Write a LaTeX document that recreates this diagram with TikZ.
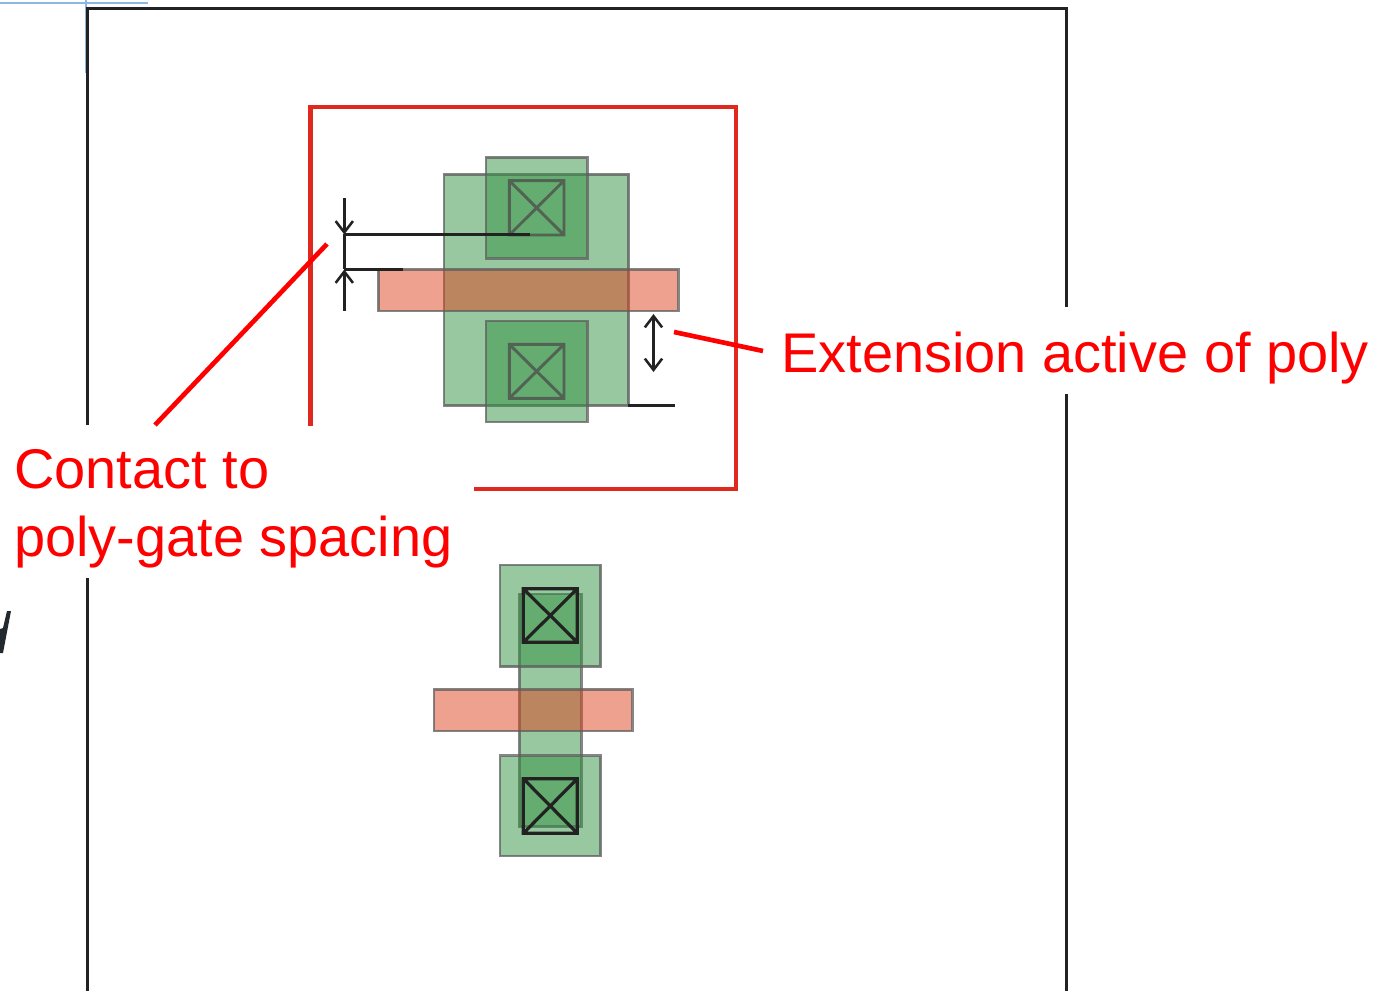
\documentclass[tikz,border=0pt]{standalone}
\usepackage{fontspec}
\setmainfont{Liberation Sans}
\usetikzlibrary{arrows.meta}
\definecolor{framec}{HTML}{222222}
\definecolor{glyphc}{HTML}{222A30}
\definecolor{boxred}{HTML}{E0281F}
\definecolor{actg}{RGB}{49,145,65}
\definecolor{polyr}{RGB}{221,68,32}
\definecolor{bluec}{HTML}{8DB8E2}
\definecolor{edgec}{HTML}{5E5E5E}
\tikzset{
  framel/.style={framec,line width=2.3pt},
  redbox/.style={boxred,line width=3.7pt,line cap=rect,line join=miter},
  leader/.style={red,line width=3.5pt},
  active/.style={fill=actg,fill opacity=.5,draw=edgec,draw opacity=.75,line width=2pt},
  polyg/.style={fill=polyr,fill opacity=.5,draw=edgec,draw opacity=.75,line width=2pt},
  contactA/.style={draw=black!70,draw opacity=.75,line width=2.2pt},
  contactB/.style={draw=framec,line width=2.4pt},
  dim/.style={framec,line width=1.9pt},
  dimtip/.style={-{Straight Barb[length=8.5pt,width=13pt,line width=1.9pt]}},
  dimboth/.style={{Straight Barb[length=8.5pt,width=13pt,line width=1.9pt]}-{Straight Barb[length=8.5pt,width=13pt,line width=1.9pt]}},
  label/.style={text=red,font=\fontsize{41.95pt}{51pt}\selectfont,inner sep=0pt,align=left}
}
\newcommand{\xbox}[5]{% style, x1,y1,x2,y2
  \draw[#1] (#2,#3) rectangle (#4,#5) (#2,#3) -- (#4,#5) (#2,#5) -- (#4,#3);}
\begin{document}
\begin{tikzpicture}[x=0.75pt,y=-0.75pt]
\useasboundingbox (0,0) rectangle (1378,991);
% faint guides
\draw[bluec,line width=0.9pt] (0,3) -- (148,3) (86,0) -- (86,73);
% page frame
\draw[framel] (87.5,425) -- (87.5,8.5) -- (1066.5,8.5) -- (1066.5,307);
\draw[framel] (87.5,578) -- (87.5,991);
\draw[framel] (1066.5,394) -- (1066.5,991);
% clipped glyph at the left edge
\fill[glyphc] (7,611) -- (11,611) -- (3,653) -- (0,653) -- (0,629) -- (3,628) -- cycle;
% red outline
\draw[redbox] (310.5,424) -- (310.5,107) -- (736,107) -- (736,489) -- (476,489);
% upper device
\draw[active] (444,174.5) rectangle (628.5,405.7);
\draw[active] (486,157.3) rectangle (587.3,258.3);
\draw[active] (486,321) rectangle (587.3,422);
\draw[polyg] (378.3,269.3) rectangle (678.3,311);
\xbox{contactA}{509.3}{180.7}{564}{235}
\xbox{contactA}{509.3}{344.3}{564}{398.3}
% lower device
\draw[active] (519.3,594) rectangle (581.3,826.7);
\draw[active] (500,565) rectangle (600.7,666.7);
\draw[active] (500,755.7) rectangle (600.7,856);
\draw[polyg] (434,689.3) rectangle (632.3,731);
\xbox{contactB}{523.3}{588.7}{577.3}{642.3}
\xbox{contactB}{523.3}{778.7}{577.3}{833.3}
% dimension marks
\coordinate (d1a) at (344.3,198);
\coordinate (d1b) at (344.3,234.5);
\coordinate (d1c) at (344.3,269.5);
\coordinate (d1d) at (344.3,311);
\coordinate (d1e) at (530,234.5);
\coordinate (d1f) at (403,269.5);
\draw[dim,dimtip] (d1a) -- (d1b);
\draw[dim] (d1b) -- (d1e);
\draw[dim] (d1b) -- (d1c);
\draw[dim] (d1c) -- (d1f);
\draw[dim,dimtip] (d1d) -- (d1c);
\coordinate (d2a) at (653.5,314);
\coordinate (d2b) at (653.5,372);
\coordinate (d2c) at (628,405.5);
\coordinate (d2d) at (675,405.5);
\draw[dim,dimboth] (d2a) -- (d2b);
\draw[dim] (d2c) -- (d2d);
% labels
\node[label,anchor=base west] (ext) at (781,373) {Extension active of poly};
\node[label,anchor=north west] (cont) at (14,449) {Contact to\\poly-gate spacing};
\coordinate (l1a) at (155,425);
\coordinate (l1b) at (327,244);
\coordinate (l2a) at (763,351);
\coordinate (l2b) at (674,332);
\draw[leader] (l1a) -- (l1b);
\draw[leader] (l2a) -- (l2b);
\end{tikzpicture}
\end{document}
